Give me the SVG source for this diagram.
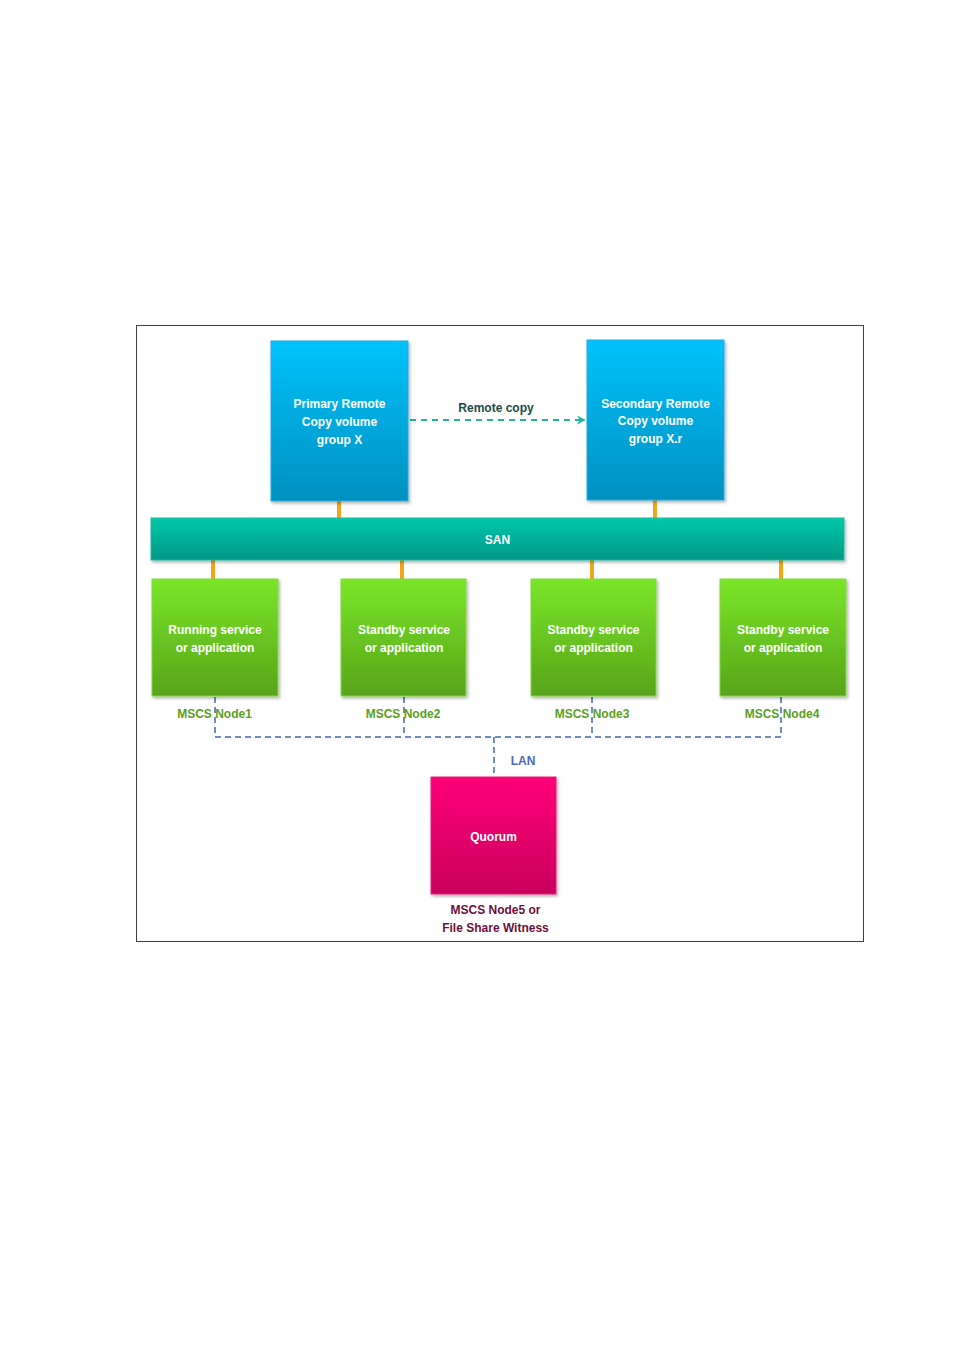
<svg xmlns="http://www.w3.org/2000/svg" width="955" height="1350" viewBox="0 0 955 1350">
<defs>
<linearGradient id="gBlue" x1="0" y1="0" x2="0" y2="1"><stop offset="0" stop-color="#00c2fc"/><stop offset="1" stop-color="#0090c0"/></linearGradient>
<linearGradient id="gGreen" x1="0" y1="0" x2="0" y2="1"><stop offset="0" stop-color="#7ae628"/><stop offset="1" stop-color="#58a41a"/></linearGradient>
<linearGradient id="gSan" x1="0" y1="0" x2="0" y2="1"><stop offset="0" stop-color="#00c8aa"/><stop offset="1" stop-color="#009886"/></linearGradient>
<linearGradient id="gPink" x1="0" y1="0" x2="0" y2="1"><stop offset="0" stop-color="#ff0078"/><stop offset="1" stop-color="#c8005c"/></linearGradient>
<filter id="sh" x="-10%" y="-10%" width="125%" height="125%"><feDropShadow dx="1.5" dy="2" stdDeviation="1.5" flood-color="#000" flood-opacity="0.3"/></filter>
<marker id="arr" viewBox="0 0 10 10" refX="9" refY="5" markerWidth="9" markerHeight="9" markerUnits="userSpaceOnUse" orient="auto"><path d="M0,0 L10,5 L0,10 L3,5 Z" fill="#22b49e"/></marker>
<style>
text{font-family:"Liberation Sans",Arial,sans-serif;font-weight:bold;font-size:12px;text-anchor:middle}
.w{fill:#ffffff}
.g{fill:#5c9e1e}
.or{stroke:#f5a51a;stroke-width:4}
.lan{stroke:#6f8cc8;stroke-width:2;stroke-dasharray:6,4;fill:none}
</style>
</defs>
<rect x="136.5" y="325.5" width="727" height="616" fill="#ffffff" stroke="#404040" stroke-width="1"/>
<g id="connectors">
<line class="or" x1="339" y1="501" x2="339" y2="518"/>
<line class="or" x1="655" y1="500" x2="655" y2="518"/>
<line class="or" x1="213" y1="560" x2="213" y2="579"/>
<line class="or" x1="402" y1="560" x2="402" y2="579"/>
<line class="or" x1="592" y1="560" x2="592" y2="579"/>
<line class="or" x1="781" y1="560" x2="781" y2="579"/>
<line x1="410" y1="420" x2="585" y2="420" stroke="#22b49e" stroke-width="2" stroke-dasharray="6,5" marker-end="url(#arr)"/>
<path class="lan" d="M215,697 V737 H781 V697"/>
<path class="lan" d="M404,697 V737"/>
<path class="lan" d="M592,697 V737"/>
<path class="lan" d="M494,737 V777"/>
</g>
<g id="primary">
<rect x="271" y="341" width="137" height="160" fill="url(#gBlue)" stroke="#2aa8dc" stroke-width="1" filter="url(#sh)"/>
<text class="w" x="339.5" y="408">Primary Remote</text>
<text class="w" x="339.5" y="426">Copy volume</text>
<text class="w" x="339.5" y="444">group X</text>
</g>
<g id="remote-copy-label"><text x="496" y="412" fill="#1c4a48">Remote copy</text></g>
<g id="secondary">
<rect x="587" y="340" width="137" height="160" fill="url(#gBlue)" stroke="#2aa8dc" stroke-width="1" filter="url(#sh)"/>
<text class="w" x="655.5" y="408">Secondary Remote</text>
<text class="w" x="655.5" y="425">Copy volume</text>
<text class="w" x="655.5" y="443">group X.r</text>
</g>
<g id="san">
<rect x="151" y="518" width="693" height="42" fill="url(#gSan)" stroke="#20b8a0" stroke-width="1" filter="url(#sh)"/>
<text class="w" x="497.5" y="544">SAN</text>
</g>
<g id="node1">
<rect x="152" y="579" width="126" height="117" fill="url(#gGreen)" stroke="#84d840" stroke-width="1" filter="url(#sh)"/>
<text class="w" x="215" y="634">Running service</text>
<text class="w" x="215" y="652">or application</text>
<text class="g" x="214.5" y="718">MSCS Node1</text>
</g>
<g id="node2">
<rect x="341" y="579" width="125" height="117" fill="url(#gGreen)" stroke="#84d840" stroke-width="1" filter="url(#sh)"/>
<text class="w" x="404" y="634">Standby service</text>
<text class="w" x="404" y="652">or application</text>
<text class="g" x="403" y="718">MSCS Node2</text>
</g>
<g id="node3">
<rect x="531" y="579" width="125" height="117" fill="url(#gGreen)" stroke="#84d840" stroke-width="1" filter="url(#sh)"/>
<text class="w" x="593.5" y="634">Standby service</text>
<text class="w" x="593.5" y="652">or application</text>
<text class="g" x="592" y="718">MSCS Node3</text>
</g>
<g id="node4">
<rect x="720" y="579" width="126" height="117" fill="url(#gGreen)" stroke="#84d840" stroke-width="1" filter="url(#sh)"/>
<text class="w" x="783" y="634">Standby service</text>
<text class="w" x="783" y="652">or application</text>
<text class="g" x="782" y="718">MSCS Node4</text>
</g>
<g id="lan-label"><text x="523" y="765" fill="#4a6ab4">LAN</text></g>
<g id="quorum">
<rect x="431" y="777" width="125" height="117" fill="url(#gPink)" stroke="#e8207a" stroke-width="1" filter="url(#sh)"/>
<text class="w" x="493.5" y="841">Quorum</text>
<text x="495.5" y="914" fill="#6a1040">MSCS Node5 or</text>
<text x="495.5" y="932" fill="#6a1040">File Share Witness</text>
</g>
</svg>
